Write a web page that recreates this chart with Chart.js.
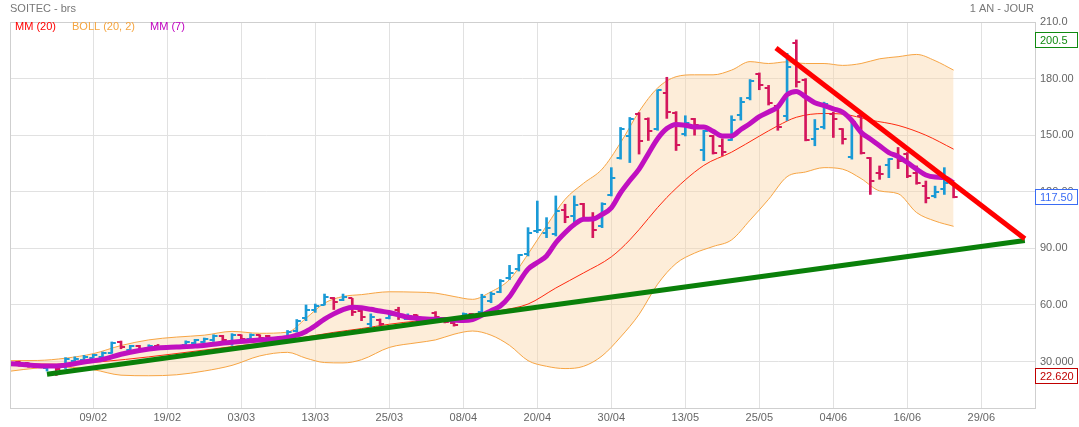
<!DOCTYPE html>
<html>
<head>
    <title>SOITEC - brs</title>
    <script src="https://cdn.jsdelivr.net/npm/chart.js"></script>
    <style>
        body { margin: 0; background: #fff; }
    </style>
</head>
<body>
    <canvas id="soitecChart" width="1079" height="427"></canvas>

    <script>
        // séances : la première barre est à l'index 1
        var firstBar = 1;
        var opens  = [30.0,29.0,28.0,26.5,27.5,28.9,30.5,31.1,32.0,32.5,34.8,40.3,36.3,38.2,37.0,38.5,37.3,38.0,38.8,40.0,
                      40.6,41.2,43.5,40.0,44.0,42.0,44.0,43.5,41.5,42.5,46.0,53.0,57.5,60.0,63.5,62.5,63.5,57.0,50.0,52.3,
                      53.0,57.5,52.8,54.5,52.2,56.0,52.5,50.5,53.3,55.0,56.5,62.0,67.0,74.4,79.0,86.8,99.0,98.3,97.4,110.3,
                      107.2,113.4,105.4,101.9,118.1,138.1,149.6,161.2,158.5,153.5,172.5,162.0,150.5,158.5,141.9,149.5,144.5,147.5,160.5,169.5,
                      182.5,175.0,165.5,160.0,199.0,179.5,148.0,154.2,161.5,153.3,138.7,160.4,137.7,130.0,134.0,140.0,140.0,130.0,123.0,117.7,
                      121.3,124.5];
        var highs  = [30.2,29.3,28.5,27.8,28.0,32.1,32.5,33.3,33.9,35.1,40.4,40.9,38.6,38.6,38.9,39.1,38.3,38.6,41.0,41.8,
                      42.5,44.2,43.9,44.8,44.2,44.7,44.2,43.9,43.0,46.5,52.3,60.0,60.5,65.8,64.0,65.8,63.5,57.9,55.3,52.6,
                      55.3,58.8,55.3,54.8,53.2,56.5,52.8,51.2,55.8,55.5,65.7,66.8,73.5,81.0,86.8,101.0,115.1,106.3,117.8,113.4,
                      117.8,113.9,109.0,114.2,132.8,154.1,159.4,162.0,159.2,174.0,180.7,162.5,160.3,158.9,152.6,149.9,148.1,160.3,170.0,179.5,
                      183.0,176.4,166.0,193.4,200.5,180.0,158.3,167.5,162.2,153.5,157.8,160.8,138.2,133.7,137.6,143.5,140.8,133.7,125.7,123.0,
                      132.8,124.8];
        var lows   = [27.6,27.0,26.8,25.0,22.62,26.3,29.3,31.0,31.9,32.3,34.4,36.8,35.9,36.3,36.6,36.8,36.9,37.0,38.6,39.5,
                      40.1,40.7,40.4,38.6,41.2,41.2,41.8,40.7,41.0,42.2,45.6,51.7,56.1,60.0,57.6,62.3,54.4,51.7,48.2,48.9,
                      52.6,52.3,52.3,51.2,51.5,52.6,50.5,48.8,52.8,53.5,56.0,61.2,66.5,73.5,78.0,86.0,98.3,95.7,96.6,103.6,
                      102.7,105.4,95.7,101.0,117.8,137.3,135.5,140.0,147.2,152.6,158.9,141.9,149.6,150.0,136.5,140.0,139.2,147.2,158.0,168.7,
                      174.1,166.0,152.6,157.8,175.5,147.0,144.4,153.3,148.8,145.3,137.3,140.0,118.6,126.6,127.5,132.3,127.5,124.0,114.1,116.8,
                      118.6,116.8];
        var closes = [28.4,27.5,27.2,27.3,26.3,31.6,31.5,32.6,33.5,34.8,39.8,37.5,38.0,36.8,38.3,37.3,38.0,37.6,40.5,41.2,
                      42.0,43.5,41.5,44.3,42.0,44.0,42.5,41.5,42.5,45.5,51.5,57.5,59.5,64.5,61.5,64.5,56.5,53.5,53.5,50.0,
                      54.5,53.5,54.2,52.0,52.8,53.5,51.0,49.5,55.2,54.0,64.0,66.0,72.6,77.0,86.3,98.3,100.0,101.0,110.0,106.8,
                      112.8,106.3,99.7,113.7,127.2,153.5,158.5,147.0,152.0,173.7,162.5,144.9,156.5,155.3,152.0,140.6,141.0,158.3,167.5,178.6,
                      176.8,166.9,154.4,186.0,178.2,147.6,153.3,166.7,158.6,148.0,156.9,140.5,125.7,129.3,137.3,136.4,128.4,124.5,116.8,119.8,
                      124.5,117.5];

        // MM (7)
        var mm7Idx = [0,2,4,6,8,10,12,14,16,18,20,22,24,26,28,30,31,32,33,34,35,36,37,38,39,40,41,42,43,44,45,46,47,48,49,50,
                      51,52,53,54,55,56,57,58,59,60,61,62,63,64,65,66,67,68,69,70,71,72,73,74,75,76,77,78,79,80,
                      81,82,83,84,85,86,87,88,89,90,91,92,93,94,95,96,97,98,99,100,101,102];
        var mm7Val = [28.9,28.2,27.6,28.1,29.8,31.2,33.9,35.9,37.2,37.7,38.2,39.2,40.2,41.0,41.8,42.8,44.0,46.0,49.0,52.5,55.3,57.5,58.8,58.5,57.7,56.8,56.0,54.8,53.5,53.0,52.6,52.4,52.3,52.0,51.8,52.3,
                      54.5,57.0,59.5,64.5,72.0,79.0,82.5,86.0,93.0,98.3,102.7,105.4,105.6,108.0,111.5,119.5,126.0,132.0,140.1,148.1,153.5,155.7,155.3,154.4,154.4,152.1,149.6,149.6,153.0,156.2,
                      159.8,162.3,165.0,171.5,173.2,170.3,167.2,165.7,164.0,162.2,157.8,151.5,148.0,144.4,140.8,138.7,135.5,132.0,128.9,127.8,127.5,124.8];

        // MM (20)
        var mm20Idx = [0,5,10,15,20,25,30,35,38,41,44,47,50,53,56,59,62,65,67,71,75,78,81,83,85,88,90,93,96,99,102];
        var mm20Val = [29.0,28.6,30.0,32.5,35.5,38.5,41.5,45.5,47.5,49.8,51.5,52.6,54.0,57.0,60.5,69.0,77.0,85.5,94.5,117.0,134.0,141.0,149.5,155.0,159.5,161.5,161.2,158.0,155.2,150.0,142.6];

        // BOLL (20, 2)
        var bollIdx = [0,3,6,9,12,15,18,21,24,27,30,32,34,36,38,41,44,46,48,50,52,54,56,58,60,62,64,66,68,70,
                       72,74,76,78,80,82,84,86,88,90,92,94,96,98,100,102];
        var bollUp  = [30.5,30.6,31.8,34.2,38.5,41.5,43.0,44.0,46.0,45.0,45.6,53.0,61.0,64.5,65.5,67.0,66.8,66.3,64.5,63.0,67.0,73.5,87.0,102.0,116.0,124.5,132.0,146.0,162.5,175.0,
                       181.0,182.0,182.0,184.5,189.0,188.0,188.9,188.0,188.0,187.0,188.0,190.5,191.6,192.8,189.5,184.5];
        var bollLow = [24.9,26.6,27.0,25.7,22.8,22.5,23.0,25.0,28.0,33.0,34.9,31.8,29.5,29.3,31.0,37.5,40.0,41.5,44.5,46.2,44.0,38.6,30.5,27.5,26.3,27.5,33.0,43.0,55.0,71.0,
                       82.0,87.5,91.0,94.5,105.0,116.0,128.0,130.5,132.8,132.0,127.0,120.5,119.0,109.0,104.5,101.7];

        // lignes de tendance tracées à la main
        var greenIdx = [4.0, 109.7];
        var greenVal = [23.3, 94.2];
        var redIdx = [82.8, 109.7];
        var redVal = [196.2, 95.1];

        // axes
        var xTickIdx = [9, 17, 25, 33, 41, 49, 57, 65, 73, 81, 89, 97, 105];
        var xTickLabels = ["09/02", "19/02", "03/03", "13/03", "25/03", "08/04", "20/04", "30/04", "13/05", "25/05", "04/06", "16/06", "29/06"];
        var yTickVals = [30, 60, 90, 120, 150, 180, 210];
        var yTickLabels = ["30.000", "60.00", "90.00", "120.00", "150.00", "180.00", "210.0"];

        // étiquettes à droite : plus haut, dernier, plus bas
        var markVals = [200.5, 117.5, 22.62];
        var markLabels = ["200.5", "117.50", "22.620"];
        var markColors = ["#108a10", "#3a6cf4", "#c00000"];

        var FONT = 'Arial, "Liberation Sans", sans-serif';
        var UP = "#1a9ad6", DOWN = "#d4165c";

        function pts(idx, vals) {
            return idx.map(function (x, k) { return { x: x, y: vals[k] }; });
        }

        // petits traits ouverture / clôture
        function tickImg(color, left) {
            var c = document.createElement("canvas");
            c.width = 10; c.height = 2;
            var g = c.getContext("2d");
            g.fillStyle = color;
            g.fillRect(left ? 1 : 5, 0, 4, 2);
            return c;
        }
        var imgs = {
            upL: tickImg(UP, true), upR: tickImg(UP, false),
            dnL: tickImg(DOWN, true), dnR: tickImg(DOWN, false)
        };

        var barData = [], openPts = [], closePts = [], barCols = [], openImgs = [], closeImgs = [];
        for (var k = 0; k < opens.length; k++) {
            var x = firstBar + k;
            var up = closes[k] >= opens[k];
            barData.push({ x: x, y: [lows[k], highs[k]] });
            openPts.push({ x: x, y: opens[k] });
            closePts.push({ x: x, y: closes[k] });
            barCols.push(up ? UP : DOWN);
            openImgs.push(up ? imgs.upL : imgs.dnL);
            closeImgs.push(up ? imgs.upR : imgs.dnR);
        }

        var decor = {
            id: "decor",
            beforeDraw: function (chart) {
                var ctx = chart.ctx;
                ctx.save();
                ctx.fillStyle = "#fff";
                ctx.fillRect(0, 0, chart.width, chart.height);
                ctx.restore();
            },
            afterDraw: function (chart) {
                var ctx = chart.ctx, a = chart.chartArea, y = chart.scales.y;
                ctx.save();
                ctx.strokeStyle = "#cfcfcf";
                ctx.lineWidth = 1;
                ctx.strokeRect(a.left + 0.5, a.top + 0.5, a.right - a.left, a.bottom - a.top);

                ctx.font = "11px " + FONT;
                ctx.textBaseline = "middle";
                ctx.fillStyle = "#777";
                ctx.textAlign = "left";
                ctx.fillText("SOITEC - brs", 10, 9);
                ctx.textAlign = "right";
                ctx.fillText("1 AN - JOUR", 1034, 9);

                ctx.textAlign = "left";
                ctx.fillStyle = "#ff0000";
                ctx.fillText("MM (20)", 15, 27);
                ctx.fillStyle = "#f5a540";
                ctx.fillText("BOLL (20, 2)", 72, 27);
                ctx.fillStyle = "#c000c0";
                ctx.fillText("MM (7)", 150, 27);

                for (var i = 0; i < markVals.length; i++) {
                    var py = Math.round(y.getPixelForValue(markVals[i]));
                    ctx.fillStyle = "#fff";
                    ctx.fillRect(a.right + 0.5, py - 7.5, 42, 15);
                    ctx.strokeStyle = markColors[i];
                    ctx.strokeRect(a.right + 0.5, py - 7.5, 42, 15);
                    ctx.fillStyle = markColors[i];
                    ctx.fillText(markLabels[i], a.right + 5, py + 0.5);
                }
                ctx.restore();
            }
        };

        var ctx = document.getElementById("soitecChart").getContext("2d");
        var chart = new Chart(ctx, {
            type: "line",
            data: {
                datasets: [
                    { type: "line", data: pts(redIdx, redVal), borderColor: "#ff0000", borderWidth: 5,
                      borderCapStyle: "butt", pointRadius: 0, order: 0 },
                    { type: "line", data: pts(greenIdx, greenVal), borderColor: "#0a800a", borderWidth: 5,
                      borderCapStyle: "butt", pointRadius: 0, order: 1 },
                    { type: "line", data: pts(mm7Idx, mm7Val), borderColor: "#c010c0", borderWidth: 5,
                      cubicInterpolationMode: "monotone", pointRadius: 0, order: 2 },
                    { type: "line", data: openPts, showLine: false, pointRadius: 3,
                      pointStyle: openImgs, order: 3 },
                    { type: "line", data: closePts, showLine: false, pointRadius: 3,
                      pointStyle: closeImgs, order: 3 },
                    { type: "bar", data: barData, backgroundColor: barCols, barThickness: 2,
                      borderWidth: 0, grouped: false, order: 4 },
                    { type: "line", data: pts(mm20Idx, mm20Val), borderColor: "#ff2a10", borderWidth: 1,
                      cubicInterpolationMode: "monotone", pointRadius: 0, order: 5 },
                    { type: "line", data: pts(bollIdx, bollUp), borderColor: "#f7a544", borderWidth: 1,
                      cubicInterpolationMode: "monotone", pointRadius: 0, fill: false, order: 6 },
                    { type: "line", data: pts(bollIdx, bollLow), borderColor: "#f7a544", borderWidth: 1,
                      cubicInterpolationMode: "monotone", pointRadius: 0, fill: "-1",
                      backgroundColor: "rgba(250, 215, 170, 0.45)", order: 6 }
                ]
            },
            options: {
                responsive: false,
                animation: false,
                events: [],
                layout: { padding: { left: 10, top: 22, right: 0, bottom: 0 } },
                plugins: { legend: { display: false }, tooltip: { enabled: false } },
                scales: {
                    x: {
                        type: "linear",
                        min: 0,
                        max: 110.8,
                        offset: false,
                        grid: { color: "#e1e1e1", drawTicks: false, offset: false },
                        border: { color: "#cfcfcf" },
                        afterBuildTicks: function (axis) {
                            axis.ticks = xTickIdx.map(function (v) { return { value: v }; });
                        },
                        afterFit: function (axis) { axis.height = 19; },
                        ticks: {
                            autoSkip: false,
                            maxRotation: 0,
                            padding: 3,
                            color: "#666",
                            font: { family: FONT, size: 11 },
                            callback: function (v) { return xTickLabels[xTickIdx.indexOf(v)]; }
                        }
                    },
                    y: {
                        type: "linear",
                        position: "right",
                        min: 5.4,
                        max: 210,
                        grid: { color: "#e1e1e1", drawTicks: false },
                        border: { color: "#cfcfcf" },
                        afterBuildTicks: function (axis) {
                            axis.ticks = yTickVals.map(function (v) { return { value: v }; });
                        },
                        afterFit: function (axis) { axis.width = 44; },
                        ticks: {
                            padding: 5,
                            color: "#666",
                            font: { family: FONT, size: 11 },
                            callback: function (v) { return yTickLabels[yTickVals.indexOf(v)]; }
                        }
                    }
                }
            },
            plugins: [decor]
        });
    </script>
</body>
</html>
